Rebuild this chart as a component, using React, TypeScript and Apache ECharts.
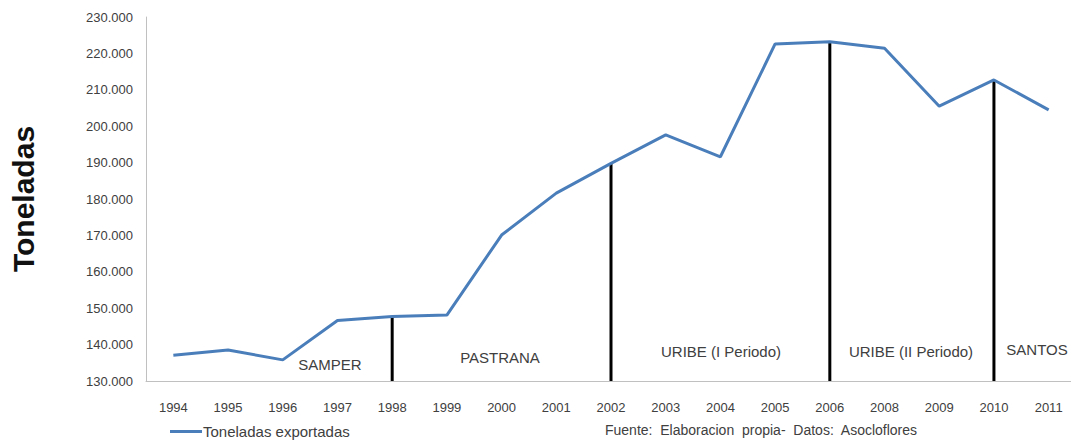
import React, { useEffect, useRef } from "react";
import * as echarts from "echarts";

const years = ["1994","1995","1996","1997","1998","1999","2000","2001","2002","2003","2004","2005","2006","2008","2009","2010","2011"];
const tonnes = [137100,138500,135800,146600,147700,148100,170100,181600,189800,197600,191600,222600,223200,221400,205500,212700,204500];
const changeYears = ["1998","2002","2006","2010"];
const periods = ["SAMPER","PASTRANA","URIBE (I Periodo)","URIBE (II Periodo)","SANTOS"];
const periodPos = [[330,364],[500,357],[721,351],[911,351],[1037,349]];
const yTicks = { min: 130000, max: 230000, interval: 10000 };

const fmt = (v: number) => String(Math.round(v)).replace(/\B(?=(\d{3})+(?!\d))/g, ".");

export default function App() {
  const ref = useRef<HTMLDivElement>(null);
  useEffect(() => {
    if (!ref.current) return;
    const chart = echarts.init(ref.current, null, { renderer: "svg" });
    const font = "'Liberation Sans', Arial, sans-serif";
    chart.setOption({
      animation: false,
      backgroundColor: "#ffffff",
      grid: { left: 141, right: 4, top: 17, bottom: 64 },
      legend: {
        left: 170, top: 424, itemWidth: 32, itemHeight: 3, itemGap: 0, padding: 0,
        icon: "rect",
        data: ["Toneladas exportadas"],
        textStyle: { fontFamily: font, fontSize: 15, color: "#404040", padding: [0, 0, 0, -4] },
      },
      xAxis: {
        type: "category",
        data: years,
        axisLine: { lineStyle: { color: "#c0c0c0", width: 1 } },
        axisTick: { show: false },
        axisLabel: { fontFamily: font, fontSize: 13, color: "#404040", margin: 20 },
      },
      yAxis: {
        type: "value",
        min: yTicks.min, max: yTicks.max, interval: yTicks.interval,
        name: "Toneladas",
        nameLocation: "middle",
        nameGap: 108,
        nameRotate: 90,
        nameTextStyle: { fontFamily: font, fontSize: 30, fontWeight: "bold", color: "#111111" },
        axisLine: { show: true, lineStyle: { color: "#c0c0c0", width: 1 } },
        axisTick: { show: false },
        splitLine: { show: false },
        axisLabel: { fontFamily: font, fontSize: 13, color: "#404040", margin: 13, formatter: (v: number) => fmt(v) },
      },
      series: [
        {
          type: "bar",
          name: "cambio",
          data: years.map((y, i) => (changeYears.includes(y) ? tonnes[i] : "-")),
          barWidth: 3,
          itemStyle: { color: "#000000" },
          z: 1,
          legendHoverLink: false,
        },
        {
          type: "line",
          name: "Toneladas exportadas",
          data: tonnes,
          symbol: "none",
          lineStyle: { color: "#4a7ebb", width: 3 },
          itemStyle: { color: "#4a7ebb" },
          z: 3,
        },
      ],
      graphic: [
        ...periods.map((p, i) => ({
          type: "text",
          x: periodPos[i][0],
          y: periodPos[i][1],
          style: { text: p, fontFamily: font, fontSize: 15, fill: "#404040", align: "center", verticalAlign: "middle" },
        })),
        {
          type: "text",
          x: 605,
          y: 430,
          style: { text: "Fuente:  Elaboracion  propia-  Datos:  Asocloflores", fontFamily: font, fontSize: 14, fill: "#404040", verticalAlign: "middle" },
        },
      ],
    });
    return () => chart.dispose();
  }, []);
  return (
    <div style={{ position: "fixed", left: 0, top: 0, width: 1071, height: 445, overflow: "hidden", background: "#fff" }}>
      <div ref={ref} style={{ width: 1080, height: 445 }} />
    </div>
  );
}
